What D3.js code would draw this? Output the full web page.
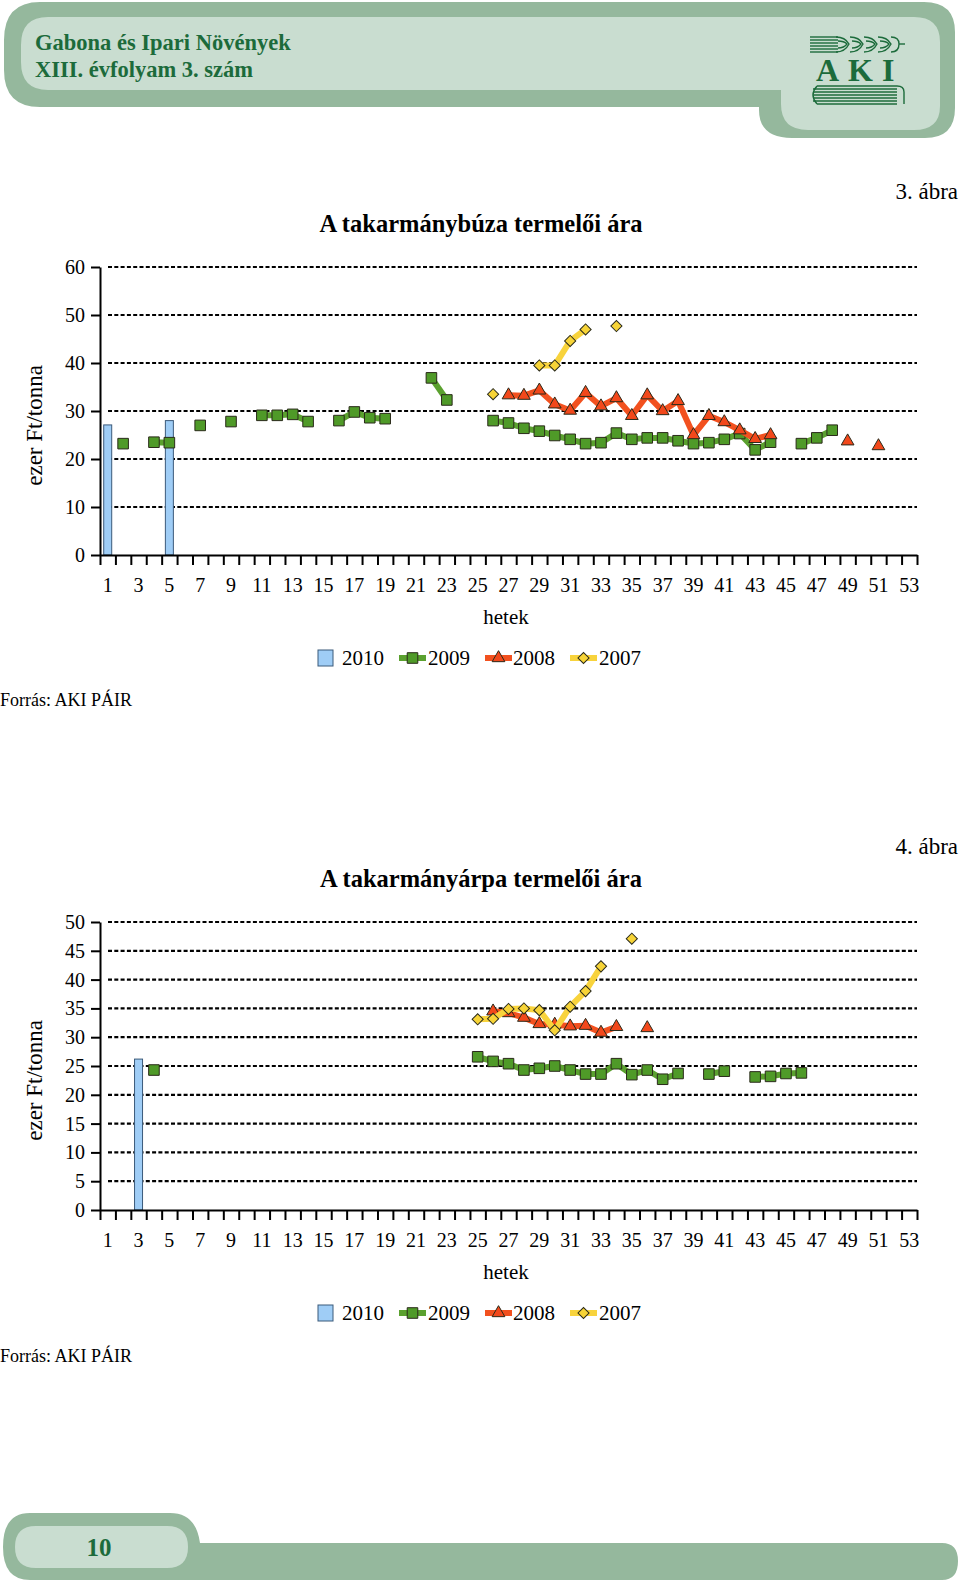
<!DOCTYPE html>
<html>
<head>
<meta charset="utf-8">
<script src="https://cdn.jsdelivr.net/npm/d3@7"></script>
<style>
  body { margin: 0; background: #fff; }
  svg { display: block; font-family: "Liberation Serif", "DejaVu Serif", serif; }
  .axis path, .axis line { stroke: #000; stroke-width: 2; }
  .axis text { font-size: 20px; fill: #000; font-family: "Liberation Serif", serif; }
</style>
</head>
<body>
<script>
//categories (weeks) and tick labels
var weeks = d3.range(1, 54);
var xTickLabels = [1, 3, 5, 7, 9, 11, 13, 15, 17, 19, 21, 23, 25, 27, 29, 31, 33, 35, 37, 39, 41, 43, 45, 47, 49, 51, 53];
var wheatTicks = [0, 10, 20, 30, 40, 50, 60];
var barleyTicks = [0, 5, 10, 15, 20, 25, 30, 35, 40, 45, 50];
var seriesNames = ["2010", "2009", "2008", "2007"];

//3. abra - takarmanybuza, [week, ezer Ft/tonna]
var wheat2010 = [[1, 27.1], [5, 28.0]];
var wheat2009 = [[2, 23.2], [4, 23.5], [5, 23.4], [7, 27.0], [9, 27.8], [11, 29.1], [12, 29.1], [13, 29.3], [14, 27.8],
    [16, 28.0], [17, 29.8], [18, 28.6], [19, 28.4], [22, 36.9], [23, 32.3], [26, 28.0], [27, 27.5], [28, 26.4],
    [29, 25.8], [30, 24.9], [31, 24.1], [32, 23.2], [33, 23.4], [34, 25.4], [35, 24.1], [36, 24.4], [37, 24.4],
    [38, 23.8], [39, 23.2], [40, 23.4], [41, 24.1], [42, 25.3], [43, 21.9], [44, 23.5], [46, 23.2], [47, 24.4], [48, 26.0]];
var wheat2008 = [[27, 33.3], [28, 33.2], [29, 34.3], [30, 31.4], [31, 30.1], [32, 33.8], [33, 31.0], [34, 32.7],
    [35, 29.0], [36, 33.3], [37, 30.0], [38, 32.1], [39, 25.0], [40, 29.0], [41, 27.7], [42, 26.0], [43, 24.2],
    [44, 25.0], [49, 23.7], [51, 22.7]];
var wheat2007 = [[26, 33.5], [29, 39.5], [30, 39.5], [31, 44.6], [32, 47.0], [34, 47.7]];

//4. abra - takarmanyarpa
var barley2010 = [[3, 26.2]];
var barley2009 = [[4, 24.3], [25, 26.6], [26, 25.8], [27, 25.4], [28, 24.3], [29, 24.6], [30, 25.0], [31, 24.3],
    [32, 23.6], [33, 23.6], [34, 25.4], [35, 23.5], [36, 24.3], [37, 22.7], [38, 23.7], [40, 23.6], [41, 24.1],
    [43, 23.1], [44, 23.2], [45, 23.7], [46, 23.8]];
var barley2008 = [[26, 34.5], [27, 34.2], [28, 33.4], [29, 32.3], [30, 32.2], [31, 31.9], [32, 32.0], [33, 30.8],
    [34, 31.8], [36, 31.6]];
var barley2007 = [[25, 33.1], [26, 33.2], [27, 34.9], [28, 35.0], [29, 34.7], [30, 31.2], [31, 35.3], [32, 38.0],
    [33, 42.3], [35, 47.1]];

(function () {

    var svg, greenDark = "#1c6b3b";
    var styles = {
        "2010": { fill: "#9fcdf6", stroke: "#3b5a7a" },
        "2009": { fill: "#4f9a28", line: "#5ba12f", shape: "square" },
        "2008": { fill: "#f2481b", line: "#f2511f", shape: "triangle" },
        "2007": { fill: "#f7d437", line: "#f8d33c", shape: "diamond" }
    };

    function setPage() {
        svg = d3.select("body").append("svg")
            .attr("width", 960)
            .attr("height", 1582);

        setHeader();
        setFooter();

        setChart({
            top: 267, height: 288, max: 60, ticks: wheatTicks,
            title: "A takarmánybúza termelői ára", figure: "3. ábra", source: 706,
            bars: wheat2010, s2009: wheat2009, s2008: wheat2008, s2007: wheat2007
        });
        setChart({
            top: 922, height: 288, max: 50, ticks: barleyTicks,
            title: "A takarmányárpa termelői ára", figure: "4. ábra", source: 1362,
            bars: barley2010, s2009: barley2009, s2008: barley2008, s2007: barley2007
        });
    }

    //green rounded banner with the journal name and logo
    function setHeader() {
        svg.append("path")
            .attr("d", "M40,2 H924 Q955,2 955,32 V108 Q955,138 925,138 H792 Q759,138 759,110 V107 H40 Q4,107 4,70 V40 Q4,2 40,2 Z")
            .style("fill", "#95b89d");
        svg.append("path")
            .attr("d", "M48,17 H914 Q940,17 940,42 V106 Q940,130 914,130 H808 Q781,130 781,104 V90 H48 Q21,90 21,62 V45 Q21,17 48,17 Z")
            .style("fill", "#c9ddd0");

        svg.append("text")
            .attr("x", 35).attr("y", 50)
            .style("font-size", "22.5px").style("font-weight", "bold").style("fill", greenDark)
            .text("Gabona és Ipari Növények");
        svg.append("text")
            .attr("x", 35).attr("y", 77)
            .style("font-size", "22.5px").style("font-weight", "bold").style("fill", greenDark)
            .text("XIII. évfolyam 3. szám");

        //AKI logo: ear of wheat, letters, book
        var logo = svg.append("g").style("stroke", greenDark).style("fill", "none").style("stroke-width", 1.4);
        [37, 40, 43, 46, 49, 52].forEach(function (yy) {
            logo.append("line").attr("x1", 810).attr("x2", 838).attr("y1", yy).attr("y2", yy);
        });
        [836, 850, 864, 878].forEach(function (xx) {
            logo.append("path").attr("d", "M" + xx + ",37 Q" + (xx + 9) + ",37 " + (xx + 13) + ",44 Q" + (xx + 9) + ",52 " + xx + ",52");
            logo.append("path").attr("d", "M" + (xx + 2) + ",41 Q" + (xx + 8) + ",41 " + (xx + 11) + ",44 Q" + (xx + 8) + ",48 " + (xx + 2) + ",48");
        });
        logo.append("path").attr("d", "M891,37 Q899,37 899,44 Q899,52 891,52");
        logo.append("line").attr("x1", 899).attr("x2", 905).attr("y1", 44).attr("y2", 44);
        svg.append("text")
            .attr("x", 816).attr("y", 81)
            .style("font-size", "32px").style("font-weight", "bold").style("fill", greenDark).style("letter-spacing", "9px")
            .text("AKI");
        [86, 89, 92, 95, 98, 101, 104].forEach(function (yy, i) {
            logo.append("path").attr("d", "M" + (817 - (i === 0 || i === 6 ? 0 : 4)) + "," + yy + " H897");
        });
        logo.append("path").attr("d", "M817,86 Q809,95 817,104");
        logo.append("path").attr("d", "M897,86 Q904,86 904,92 V104");
    }

    function setFooter() {
        svg.append("path")
            .attr("d", "M30,1513 H170 Q196,1513 200,1543 H942 Q958,1543 958,1561 Q958,1580 942,1580 H30 Q3,1580 3,1547 Q3,1513 30,1513 Z")
            .style("fill", "#95b89d");
        svg.append("path")
            .attr("d", "M36,1526 H167 Q188,1526 188,1547 Q188,1568 167,1568 H36 Q15,1568 15,1547 Q15,1526 36,1526 Z")
            .style("fill", "#c9ddd0");
        svg.append("text")
            .attr("x", 99).attr("y", 1556)
            .attr("text-anchor", "middle")
            .style("font-size", "25px").style("font-weight", "bold").style("fill", greenDark)
            .text("10");
    }

    //split [week, value] pairs into runs of consecutive weeks
    function runs(data) {
        var out = [], cur = [];
        data.forEach(function (d, i) {
            if (i > 0 && d[0] - data[i - 1][0] > 1) { out.push(cur); cur = []; }
            cur.push(d);
        });
        if (cur.length) out.push(cur);
        return out;
    }

    function markerPath(shape) {
        if (shape === "square") return d3.symbol(d3.symbolSquare, 112)();
        if (shape === "triangle") return d3.symbol(d3.symbolTriangle, 70)();
        return d3.symbol(d3.symbolSquare, 62)();
    }

    function setChart(cfg) {
        var left = 100, right = 917,
            bottom = cfg.top + cfg.height;

        var x = d3.scaleBand().domain(weeks).range([left, right]).paddingInner(0);
        var xEdge = d3.scaleLinear().domain([0, 53]).range([left, right]);
        var y = d3.scaleLinear().domain([0, cfg.max]).range([bottom, cfg.top]);
        var cx = function (d) { return x(d[0]) + x.bandwidth() / 2; };

        //figure number and title
        svg.append("text")
            .attr("x", 958).attr("y", cfg.top - 68)
            .attr("text-anchor", "end")
            .style("font-size", "23px")
            .text(cfg.figure);
        svg.append("text")
            .attr("x", 481).attr("y", cfg.top - 35)
            .attr("text-anchor", "middle")
            .style("font-size", "24.5px").style("font-weight", "bold")
            .text(cfg.title);

        //dotted gridlines
        svg.append("g")
            .selectAll("line")
            .data(cfg.ticks.filter(function (t) { return t > 0; }))
            .enter()
            .append("line")
            .attr("x1", left + 8).attr("x2", right)
            .attr("y1", function (d) { return y(d); })
            .attr("y2", function (d) { return y(d); })
            .style("stroke", "#000")
            .style("stroke-width", 2.2)
            .style("stroke-dasharray", "4,2.3");

        //2010 bars
        svg.append("g")
            .selectAll("rect")
            .data(cfg.bars)
            .enter()
            .append("rect")
            .attr("x", function (d) { return cx(d) - 4; })
            .attr("width", 8)
            .attr("y", function (d) { return y(d[1]); })
            .attr("height", function (d) { return bottom - y(d[1]); })
            .style("fill", styles["2010"].fill)
            .style("stroke", styles["2010"].stroke)
            .style("stroke-width", 1);

        var line = d3.line().x(cx).y(function (d) { return y(d[1]); });

        [["2009", cfg.s2009], ["2008", cfg.s2008], ["2007", cfg.s2007]].forEach(function (s) {
            var st = styles[s[0]];
            var g = svg.append("g").attr("class", "series s" + s[0]);
            g.selectAll("path.line")
                .data(runs(s[1]).filter(function (r) { return r.length > 1; }))
                .enter()
                .append("path")
                .attr("class", "line")
                .attr("d", line)
                .style("fill", "none")
                .style("stroke", st.line)
                .style("stroke-width", 6)
                .style("stroke-linejoin", "round");
            g.selectAll("path.mark")
                .data(s[1])
                .enter()
                .append("path")
                .attr("class", "mark")
                .attr("d", markerPath(st.shape))
                .attr("transform", function (d) {
                    return "translate(" + cx(d) + "," + y(d[1]) + ")" + (st.shape === "diamond" ? " rotate(45)" : "");
                })
                .style("fill", st.fill)
                .style("stroke", "#2a2a1a")
                .style("stroke-width", 1);
        });

        //vertical axis
        svg.append("g")
            .attr("class", "axis")
            .attr("transform", "translate(" + left + ",0)")
            .call(d3.axisLeft(y).tickValues(cfg.ticks).tickSize(9).tickSizeOuter(0).tickPadding(6));

        //horizontal axis: tick marks on the week boundaries, labels on odd weeks
        svg.append("g")
            .attr("class", "axis")
            .attr("transform", "translate(0," + bottom + ")")
            .call(d3.axisBottom(xEdge).tickValues(d3.range(0, 54)).tickSize(10).tickSizeOuter(0).tickFormat(""));
        svg.append("g")
            .attr("class", "axis")
            .attr("transform", "translate(0," + bottom + ")")
            .call(d3.axisBottom(x).tickValues(xTickLabels).tickSize(0).tickPadding(23))
            .call(function (g) { g.select(".domain").remove(); });

        svg.append("text")
            .attr("x", 506).attr("y", bottom + 69)
            .attr("text-anchor", "middle")
            .style("font-size", "21px")
            .text("hetek");

        //axis title
        svg.append("text")
            .attr("transform", "translate(42," + (cfg.top + cfg.height * 0.55) + ") rotate(-90)")
            .attr("text-anchor", "middle")
            .style("font-size", "23px")
            .text("ezer Ft/tonna");

        setLegend(bottom + 103);

        svg.append("text")
            .attr("x", 0).attr("y", cfg.source)
            .style("font-size", "18px")
            .text("Forrás: AKI PÁIR");
    }

    function setLegend(cy) {
        var lg = svg.append("g").attr("class", "legend");
        var items = [
            { name: seriesNames[0], x0: 318, tx: 342 },
            { name: seriesNames[1], x0: 399, tx: 428 },
            { name: seriesNames[2], x0: 485, tx: 513 },
            { name: seriesNames[3], x0: 570, tx: 599 }
        ];
        items.forEach(function (it) {
            var st = styles[it.name];
            if (it.name === "2010") {
                lg.append("rect")
                    .attr("x", it.x0).attr("y", cy - 8)
                    .attr("width", 15).attr("height", 16)
                    .style("fill", st.fill).style("stroke", st.stroke);
            } else {
                lg.append("line")
                    .attr("x1", it.x0).attr("x2", it.x0 + 27)
                    .attr("y1", cy).attr("y2", cy)
                    .style("stroke", st.line).style("stroke-width", 6);
                lg.append("path")
                    .attr("d", markerPath(st.shape))
                    .attr("transform", "translate(" + (it.x0 + 13.5) + "," + cy + ")" + (st.shape === "diamond" ? " rotate(45)" : ""))
                    .style("fill", st.fill).style("stroke", "#2a2a1a");
            }
            lg.append("text")
                .attr("x", it.tx).attr("y", cy + 7)
                .style("font-size", "21px")
                .text(it.name);
        });
    }

    window.onload = setPage;

})();
</script>
</body>
</html>
